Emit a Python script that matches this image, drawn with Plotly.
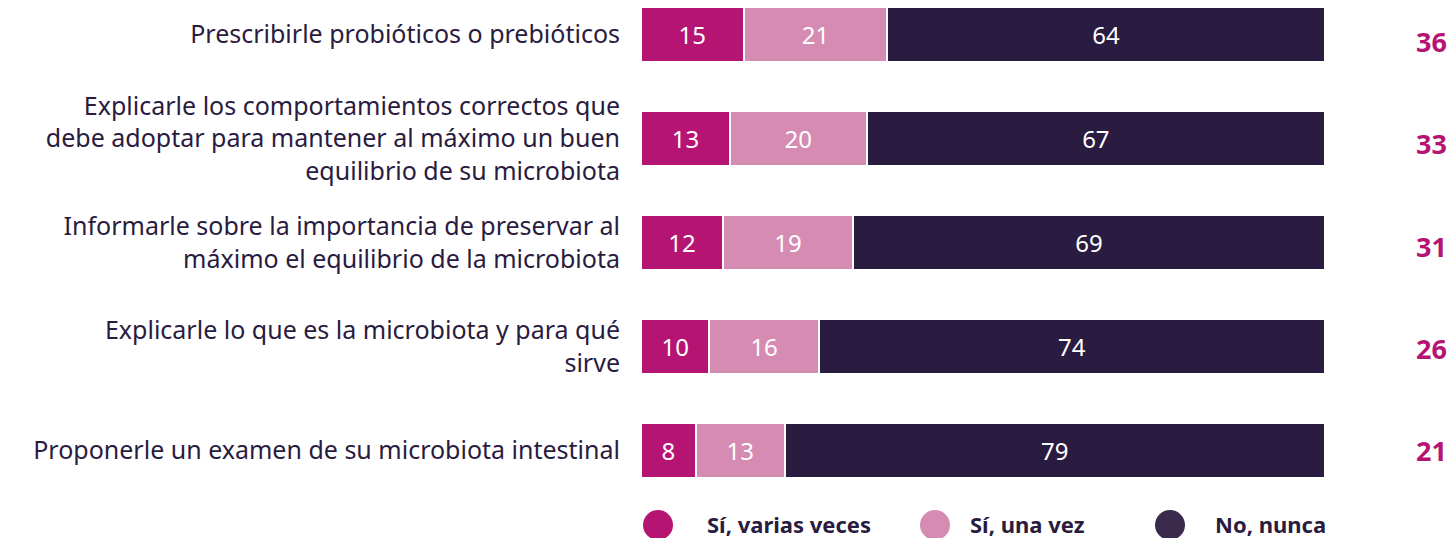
import plotly.graph_objects as go

# Survey items (top to bottom) and answer shares in %
categories = [
    "Prescribirle probióticos o prebióticos",
    "Explicarle los comportamientos correctos que<br>debe adoptar para mantener al máximo un buen<br>equilibrio de su microbiota",
    "Informarle sobre la importancia de preservar al<br>máximo el equilibrio de la microbiota",
    "Explicarle lo que es la microbiota y para qué<br>sirve",
    "Proponerle un examen de su microbiota intestinal",
]
si_varias = [15, 13, 12, 10, 8]
si_una = [21, 20, 19, 16, 13]
no_nunca = [64, 67, 69, 74, 79]

series_names = ["Sí, varias veces", "Sí, una vez", "No, nunca"]
series_values = [si_varias, si_una, no_nunca]
bar_colors = ["#B51473", "#D68BB2", "#2A1B40"]
legend_colors = ["#B51473", "#D68BB2", "#3A2A4C"]

# Total of "yes" answers shown on the right
totals = [a + b for a, b in zip(si_varias, si_una)]

FONT = "Noto Sans"
TEXT_DARK = "#2A1B40"
W, H = 1453, 538
L, R, T, B = 641, 1325, 0, 485   # plot area in pixels
PW, PH = R - L, B - T


def px_x(x):
    return (x - L) / PW


def px_y(y):
    return (B - y) / PH


fig = go.Figure()
for name, vals, col in zip(series_names, series_values, bar_colors):
    fig.add_trace(go.Bar(
        y=categories, x=vals, name=name, orientation="h",
        marker=dict(color=col, line=dict(color="white", width=2)),
        width=0.52,
        text=[str(v) for v in vals], textposition="inside",
        insidetextanchor="middle", constraintext="none",
        textfont=dict(family=FONT, size=24, color="white"),
        showlegend=False, hoverinfo="skip",
    ))

# Totals column on the right (column is spaced slightly tighter than the bars)
for i, (cat, tot) in enumerate(zip(categories, totals)):
    fig.add_annotation(
        x=px_x(1449), xref="paper", xanchor="right",
        y=cat, yref="y", yanchor="middle", yshift=-(7 - 1.7 * i),
        text=f"<b>{tot}</b>", showarrow=False,
        font=dict(family=FONT, size=27, color="#B51473"),
    )

# Legend drawn as circles + labels under the bars
legend_cx = [658, 935, 1170]
legend_tx = [705, 968, 1213]
legend_cy = 524
for name, col, cx, tx in zip(series_names, legend_colors, legend_cx, legend_tx):
    fig.add_shape(
        type="circle", xref="paper", yref="paper",
        xsizemode="pixel", ysizemode="pixel",
        xanchor=px_x(cx), yanchor=px_y(legend_cy + 1),
        x0=-15, x1=15, y0=-15, y1=15,
        fillcolor=col, line=dict(width=0),
    )
    fig.add_annotation(
        x=px_x(tx), xref="paper", xanchor="left",
        y=px_y(legend_cy), yref="paper", yanchor="middle",
        text=f"<b>{name}</b>", showarrow=False,
        font=dict(family=FONT, size=22, color=TEXT_DARK),
    )

span = PH / 104.0
top = -34.5 / 104.0
fig.update_layout(
    width=W, height=H,
    barmode="stack",
    margin=dict(l=L, r=W - R, t=T, b=H - B, pad=0),
    paper_bgcolor="white", plot_bgcolor="white",
    font=dict(family=FONT, color=TEXT_DARK),
    showlegend=False,
    xaxis=dict(range=[0, 100], visible=False, fixedrange=True),
    yaxis=dict(
        type="category", categoryorder="array", categoryarray=categories,
        range=[top + span, top],
        showgrid=False, zeroline=False, showline=False, ticks="",
        ticklabelstandoff=20,
        tickfont=dict(family=FONT, size=25, color=TEXT_DARK),
    ),
)

fig.write_html("out.html")
